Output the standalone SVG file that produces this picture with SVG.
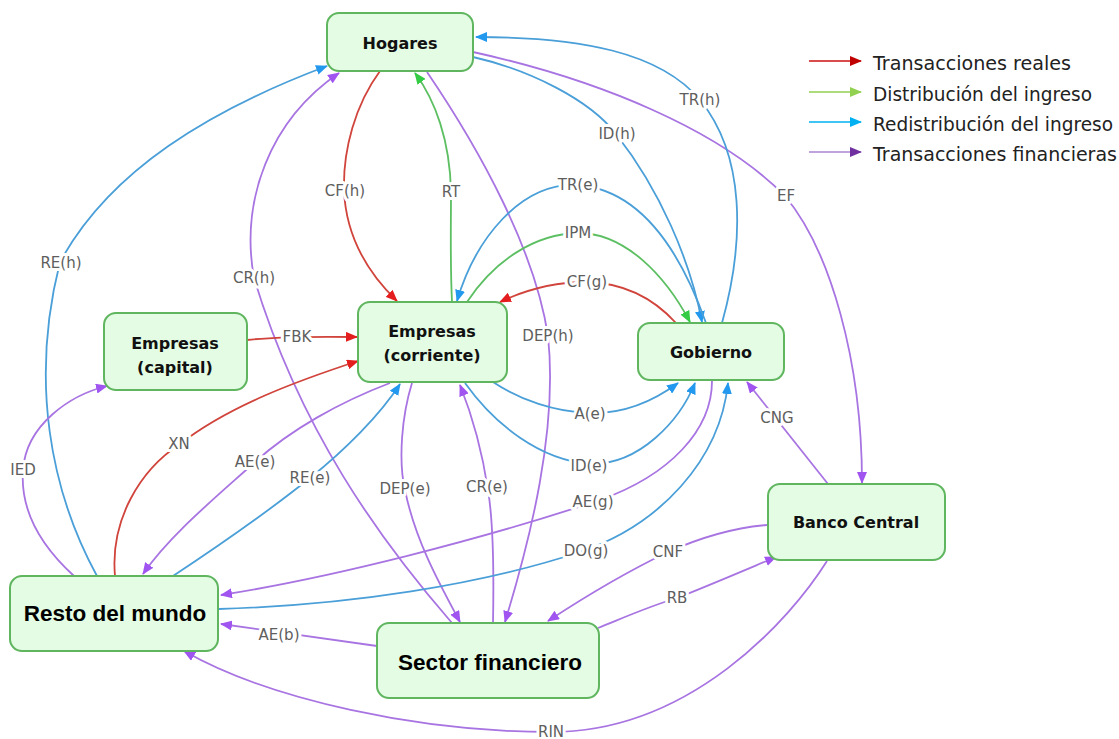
<svg xmlns="http://www.w3.org/2000/svg" width="1119" height="739" viewBox="0 0 1119 739">
<style>
.c{fill:none;stroke-width:1.8}
.r{stroke:#d0443c;marker-end:url(#mr)}
.g{stroke:#5cbf62;marker-end:url(#mg)}
.b{stroke:#4a9fd8;marker-end:url(#mb)}
.p{stroke:#a874e2;marker-end:url(#mp)}
.lb{font-family:"DejaVu Sans",sans-serif;font-size:15px;fill:#5e5e5e;text-anchor:middle;dominant-baseline:central;paint-order:stroke;stroke:#fff;stroke-width:6px;stroke-linejoin:round}
.nd{fill:#e4fbe4;stroke:#5fb65f;stroke-width:2}
.nt{font-family:"DejaVu Sans",sans-serif;font-weight:bold;font-size:16px;fill:#111;text-anchor:middle;dominant-baseline:central}
.nt2{font-family:"Liberation Sans",Arial,sans-serif;font-weight:bold;font-size:22.5px;fill:#000;text-anchor:middle;dominant-baseline:central}
.lg{font-family:"DejaVu Sans",sans-serif;font-size:19px;fill:#222}
</style>
<defs>
<marker id="mr" viewBox="0 0 12 10" refX="11" refY="5" markerWidth="12" markerHeight="10" markerUnits="userSpaceOnUse" orient="auto"><path d="M0,0 L12,5 L0,10 z" fill="#e41e1e"/></marker>
<marker id="mg" viewBox="0 0 12 10" refX="11" refY="5" markerWidth="12" markerHeight="10" markerUnits="userSpaceOnUse" orient="auto"><path d="M0,0 L12,5 L0,10 z" fill="#33cc44"/></marker>
<marker id="mb" viewBox="0 0 12 10" refX="11" refY="5" markerWidth="12" markerHeight="10" markerUnits="userSpaceOnUse" orient="auto"><path d="M0,0 L12,5 L0,10 z" fill="#2299ee"/></marker>
<marker id="mp" viewBox="0 0 12 10" refX="11" refY="5" markerWidth="12" markerHeight="10" markerUnits="userSpaceOnUse" orient="auto"><path d="M0,0 L12,5 L0,10 z" fill="#a155f0"/></marker>
<marker id="lr" viewBox="0 0 12 10" refX="11" refY="5" markerWidth="12" markerHeight="10" markerUnits="userSpaceOnUse" orient="auto"><path d="M0,0 L12,5 L0,10 z" fill="#c00000"/></marker>
<marker id="lgm" viewBox="0 0 12 10" refX="11" refY="5" markerWidth="12" markerHeight="10" markerUnits="userSpaceOnUse" orient="auto"><path d="M0,0 L12,5 L0,10 z" fill="#92d050"/></marker>
<marker id="lbm" viewBox="0 0 12 10" refX="11" refY="5" markerWidth="12" markerHeight="10" markerUnits="userSpaceOnUse" orient="auto"><path d="M0,0 L12,5 L0,10 z" fill="#00b0f0"/></marker>
<marker id="lpm" viewBox="0 0 12 10" refX="11" refY="5" markerWidth="12" markerHeight="10" markerUnits="userSpaceOnUse" orient="auto"><path d="M0,0 L12,5 L0,10 z" fill="#7030a0"/></marker>
</defs>
<rect width="1119" height="739" fill="#fff"/>

<g id="connectors">
<path class="c r" d="M380,71 C355,105 343,150 344,190 C346,240 370,275 397,301"/>
<path class="c g" d="M452,302 C450,260 451,230 451,192 C450,140 435,100 415,73"/>
<path class="c p" d="M427,72 C480,150 535,250 548,336 C558,430 530,540 505,622"/>
<path class="c p" d="M452,623 C380,540 300,430 254,278 C240,200 270,120 339,73"/>
<path class="c b" d="M97,576 C50,490 30,380 60,262 C110,170 210,110 327,66"/>
<path class="c p" d="M74,576 C40,545 20,510 23,470 C26,425 70,395 107,386"/>
<path class="c r" d="M115,576 C110,520 140,470 180,444 C230,405 300,380 358,361"/>
<path class="c p" d="M390,383 C340,402 290,430 255,462 C215,498 170,535 143,574"/>
<path class="c b" d="M173,576 C220,545 270,510 310,478 C345,450 380,415 400,384"/>
<path class="c p" d="M412,383 C402,415 398,460 405,490 C415,540 440,585 460,622"/>
<path class="c p" d="M493,623 C494,570 493,520 488,490 C482,450 472,415 460,385"/>
<path class="c b" d="M493,382 C520,400 555,412 590,413 C625,414 655,400 678,383"/>
<path class="c b" d="M465,383 C495,425 540,460 590,464 C640,465 680,420 695,383"/>
<path class="c p" d="M712,381 C712,430 670,475 600,500 C480,540 330,578 221,595"/>
<path class="c b" d="M219,609 C350,605 480,585 580,552 C660,525 720,460 728,383"/>
<path class="c p" d="M828,484 L747,382"/>
<path class="c p" d="M767,525 C730,528 695,540 668,552 C620,575 580,600 548,621"/>
<path class="c p" d="M598,628 C630,615 650,606 677,598 C710,585 745,570 776,557"/>
<path class="c p" d="M827,561 C790,620 690,732 551,732 C420,732 270,700 184,651"/>
<path class="c p" d="M377,646 L221,624"/>
<path class="c p" d="M473,52 C600,80 720,130 785,196 C830,250 862,360 862,483"/>
<path class="c b" d="M722,323 C745,240 745,155 700,100 C660,52 580,37 476,37"/>
<path class="c b" d="M473,57 C530,70 590,100 616,134 C660,190 690,260 702,322"/>
<path class="c b" d="M706,323 C680,250 640,190 578,185 C520,182 475,240 457,301"/>
<path class="c g" d="M467,302 C495,260 535,234 578,233 C625,233 665,275 690,322"/>
<path class="c r" d="M676,323 C655,300 625,283 587,282 C555,282 525,290 500,302"/>
<path class="c r" d="M247,340 Q280,336 357,337"/>

<text class="lb" x="345" y="191">CF(h)</text>
<text class="lb" x="451" y="192">RT</text>
<text class="lb" x="548" y="336">DEP(h)</text>
<text class="lb" x="254" y="278">CR(h)</text>
<text class="lb" x="61" y="263">RE(h)</text>
<text class="lb" x="23" y="470">IED</text>
<text class="lb" x="179" y="444">XN</text>
<text class="lb" x="255" y="462">AE(e)</text>
<text class="lb" x="310" y="478">RE(e)</text>
<text class="lb" x="405" y="489">DEP(e)</text>
<text class="lb" x="487" y="487">CR(e)</text>
<text class="lb" x="590" y="414">A(e)</text>
<text class="lb" x="589" y="466">ID(e)</text>
<text class="lb" x="593" y="502">AE(g)</text>
<text class="lb" x="586" y="551">DO(g)</text>
<text class="lb" x="777" y="418">CNG</text>
<text class="lb" x="668" y="552">CNF</text>
<text class="lb" x="677" y="598">RB</text>
<text class="lb" x="551" y="732">RIN</text>
<text class="lb" x="279" y="635">AE(b)</text>
<text class="lb" x="786" y="196">EF</text>
<text class="lb" x="700" y="100">TR(h)</text>
<text class="lb" x="617" y="134">ID(h)</text>
<text class="lb" x="578" y="185">TR(e)</text>
<text class="lb" x="578" y="233">IPM</text>
<text class="lb" x="587" y="282">CF(g)</text>
<text class="lb" x="297" y="337">FBK</text>
</g>

<g id="hogares"><rect class="nd" x="327" y="13" width="146" height="58" rx="12"/><text class="nt" x="400" y="43">Hogares</text></g>
<g id="empresas-capital"><rect class="nd" x="104" y="313" width="143" height="77" rx="12"/><text class="nt" x="175" y="343">Empresas</text><text class="nt" x="175" y="367">(capital)</text></g>
<g id="empresas-corriente"><rect class="nd" x="358" y="302" width="149" height="80" rx="12"/><text class="nt" x="432" y="331">Empresas</text><text class="nt" x="432" y="355">(corriente)</text></g>
<g id="gobierno"><rect class="nd" x="638" y="323" width="146" height="57" rx="12"/><text class="nt" x="711" y="352">Gobierno</text></g>
<g id="banco-central"><rect class="nd" x="768" y="484" width="177" height="76" rx="12"/><text class="nt" x="856" y="522">Banco Central</text></g>
<g id="resto-del-mundo"><rect class="nd" x="10" y="576" width="208" height="75" rx="12"/><text class="nt2" x="115" y="613">Resto del mundo</text></g>
<g id="sector-financiero"><rect class="nd" x="377" y="623" width="222" height="75" rx="12"/><text class="nt2" x="490" y="662">Sector financiero</text></g>

<g id="legend">
<line x1="809" y1="61" x2="861" y2="61" stroke="#cc1111" stroke-width="1.6" marker-end="url(#lr)"/>
<line x1="809" y1="92" x2="861" y2="92" stroke="#92d050" stroke-width="1.6" marker-end="url(#lgm)"/>
<line x1="809" y1="122" x2="861" y2="122" stroke="#00b0f0" stroke-width="1.6" marker-end="url(#lbm)"/>
<line x1="809" y1="152" x2="861" y2="152" stroke="#a884d0" stroke-width="1.6" marker-end="url(#lpm)"/>
<text class="lg" x="873" y="70" textLength="198" lengthAdjust="spacingAndGlyphs">Transacciones reales</text>
<text class="lg" x="873" y="101" textLength="219" lengthAdjust="spacingAndGlyphs">Distribución del ingreso</text>
<text class="lg" x="873" y="131" textLength="240" lengthAdjust="spacingAndGlyphs">Redistribución del ingreso</text>
<text class="lg" x="873" y="161" textLength="244" lengthAdjust="spacingAndGlyphs">Transacciones financieras</text>
</g>
</svg>
